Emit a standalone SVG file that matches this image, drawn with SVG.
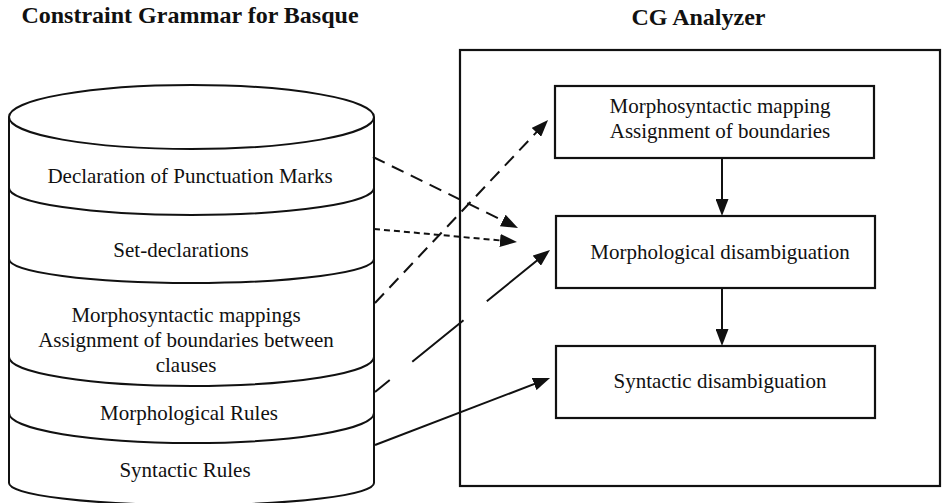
<svg xmlns="http://www.w3.org/2000/svg" width="942" height="503" viewBox="0 0 942 503">
  <style>
    .t { font-family: "Liberation Serif", "Times New Roman", serif; font-size: 21px; fill: #111; text-anchor: middle; }
    .title { font-family: "Liberation Serif", "Times New Roman", serif; font-size: 24px; font-weight: bold; fill: #111; text-anchor: middle; }
    .ln { fill: none; stroke: #111; stroke-width: 2; }
    .box { fill: #fff; stroke: #111; stroke-width: 2.2; }
    .dash { stroke-dasharray: 13 8; }
    .dot { stroke-dasharray: 6 4; }
    .long { stroke-dasharray: 19 29 66 30 200; }
  </style>
  <defs>
    <marker id="ah" viewBox="0 0 17 13" refX="13" refY="6.5" markerWidth="17" markerHeight="13" markerUnits="userSpaceOnUse" orient="auto">
      <path d="M0,0 L17,6.5 L0,13 z" fill="#111" stroke="none"/>
    </marker>
  </defs>
  <rect width="942" height="503" fill="#fff"/>

  <g id="titles">
    <text class="title" x="190" y="23">Constraint Grammar for Basque</text>
    <text class="title" x="698.5" y="25">CG Analyzer</text>
  </g>

  <g id="grammar-cylinder">
    <path class="ln" d="M9 117 L9 483 A182.5 22 0 0 0 374 483 L374 117" fill="#fff"/>
    <ellipse class="ln" cx="191.5" cy="117" rx="182.5" ry="32"/>
    <path class="ln" d="M9 188 A182.5 27 0 0 0 374 188"/>
    <path class="ln" d="M9 259 A182.5 24 0 0 0 374 259"/>
    <path class="ln" d="M9 357 A182.5 29 0 0 0 374 357"/>
    <path class="ln" d="M9 413 A182.5 30 0 0 0 374 413"/>
  </g>
  <g id="band-punctuation"><text class="t" x="190" y="183">Declaration of Punctuation Marks</text></g>
  <g id="band-sets"><text class="t" x="181" y="257">Set-declarations</text></g>
  <g id="band-mappings">
    <text class="t" x="186" y="322">Morphosyntactic mappings</text>
    <text class="t" x="186" y="347">Assignment of boundaries between</text>
    <text class="t" x="186" y="372">clauses</text>
  </g>
  <g id="band-morph-rules"><text class="t" x="189" y="420">Morphological Rules</text></g>
  <g id="band-syn-rules"><text class="t" x="185" y="477">Syntactic Rules</text></g>

  <g id="cg-analyzer">
    <rect class="box" x="460" y="50" width="480" height="436" fill="none"/>
  </g>
  <g id="node-mapping">
    <rect class="box" x="555" y="86" width="319" height="72"/>
    <text class="t" x="720" y="113">Morphosyntactic mapping</text>
    <text class="t" x="720" y="138">Assignment of boundaries</text>
  </g>
  <g id="node-morph">
    <rect class="box" x="556" y="216" width="319" height="72"/>
    <text class="t" x="720" y="259">Morphological disambiguation</text>
  </g>
  <g id="node-syn">
    <rect class="box" x="556" y="346" width="319" height="72"/>
    <text class="t" x="720" y="388">Syntactic disambiguation</text>
  </g>

  <g id="connectors">
    <line class="ln dash" x1="373" y1="157" x2="514.4" y2="226.2" marker-end="url(#ah)"/>
    <line class="ln dot" x1="374" y1="229" x2="513" y2="241.6" marker-end="url(#ah)"/>
    <line class="ln dash" x1="375" y1="303" x2="545.3" y2="122.9" marker-end="url(#ah)"/>
    <line class="ln long" x1="375" y1="392" x2="546.9" y2="252.5" marker-end="url(#ah)"/>
    <line class="ln" x1="375" y1="445" x2="546.3" y2="379.4" marker-end="url(#ah)"/>
    <line class="ln" x1="722" y1="158" x2="722" y2="212" marker-end="url(#ah)"/>
    <line class="ln" x1="722" y1="288" x2="722" y2="342" marker-end="url(#ah)"/>
  </g>
</svg>
